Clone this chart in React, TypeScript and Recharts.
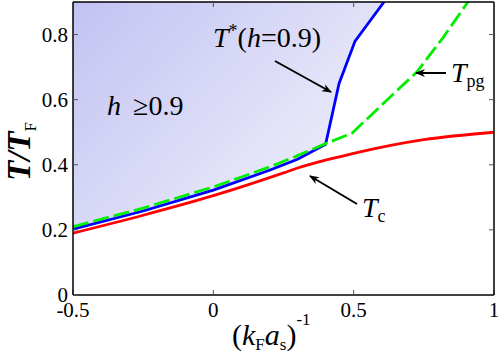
import {
  Area,
  ComposedChart,
  Line,
  XAxis,
  YAxis,
} from "recharts";

// axis setup
const X_TICKS = [-0.5, 0, 0.5, 1];
const Y_TICKS = [0, 0.2, 0.4, 0.6, 0.8];
const TOP_TICKS = [0, 0.5];
const RIGHT_TICKS = [0.2, 0.4, 0.6, 0.8];
const Y_MAX = 0.9;

// T_c (red, solid)
const tcX = [-0.5, -0.25, 0, 0.25, 0.3, 0.5, 0.75, 1];
const tcY = [0.19, 0.245, 0.305, 0.375, 0.39, 0.435, 0.477, 0.5];

// T*(h=0.9) (blue, solid) — also the lower edge of the shaded region
const tsX = [-0.5, -0.25, 0, 0.2, 0.3, 0.4, 0.448, 0.505, 0.608];
const tsY = [0.202, 0.258, 0.322, 0.383, 0.417, 0.463, 0.65, 0.78, 0.9];

// T_pg (green, dashed)
const pgX = [-0.5, -0.25, 0, 0.2, 0.3, 0.4, 0.494, 0.62, 0.725, 0.818, 0.907];
const pgY = [0.21, 0.267, 0.332, 0.393, 0.428, 0.465, 0.497, 0.6, 0.685, 0.79, 0.9];

const FONT = "'Liberation Serif', 'Times New Roman', 'DejaVu Serif', serif";

function buildRows() {
  const xs = Array.from(new Set([...tcX, ...tsX, ...pgX])).sort((a, b) => a - b);
  return xs.map((x) => {
    const row: Record<string, any> = { x };
    const i = tcX.indexOf(x);
    if (i >= 0) row.tc = tcY[i];
    const j = tsX.indexOf(x);
    if (j >= 0) {
      row.ts = tsY[j];
      row.shade = [tsY[j], Y_MAX];
    }
    const k = pgX.indexOf(x);
    if (k >= 0) row.pg = pgY[k];
    return row;
  });
}

const tickStyle = { fontFamily: FONT, fontSize: 21, fill: "#000" };
const blank = () => "";
const serif = { fontFamily: FONT };

export default function App() {
  const rows = buildRows();
  return (
    <div style={{ position: "fixed", left: 0, top: 0, width: 498, height: 353, background: "#fff" }}>
      <ComposedChart
        width={498}
        height={353}
        data={rows}
        margin={{ top: 1, right: 3, bottom: 57, left: 72 }}
      >
        <defs>
          <linearGradient id="shadeGrad" x1="0" y1="0" x2="1" y2="0.7">
            <stop offset="0%" stopColor="#c2c2f2" />
            <stop offset="100%" stopColor="#f0f0fc" />
          </linearGradient>
        </defs>
        <Area
          xAxisId="b"
          yAxisId="l"
          type="linear"
          dataKey="shade"
          stroke="none"
          fill="url(#shadeGrad)"
          fillOpacity={1}
          connectNulls
          isAnimationActive={false}
        />
        <XAxis
          xAxisId="b"
          type="number"
          dataKey="x"
          domain={[-0.5, 1]}
          ticks={X_TICKS}
          interval={0}
          height={1}
          tickSize={-5}
          tickMargin={12}
          tick={tickStyle}
          tickFormatter={(v) => String(v)}
          axisLine={{ stroke: "#000", strokeWidth: 1.5 }}
          tickLine={{ stroke: "#555" }}
          allowDataOverflow
        />
        <XAxis
          xAxisId="t"
          orientation="top"
          type="number"
          dataKey="x"
          domain={[-0.5, 1]}
          ticks={TOP_TICKS}
          interval={0}
          height={1}
          tickSize={-5}
          tickFormatter={blank}
          axisLine={{ stroke: "#000", strokeWidth: 1.5 }}
          tickLine={{ stroke: "#555" }}
          allowDataOverflow
        />
        <YAxis
          yAxisId="l"
          type="number"
          domain={[0, Y_MAX]}
          ticks={Y_TICKS}
          interval={0}
          width={1}
          tickSize={-5}
          tickMargin={10}
          tick={tickStyle}
          tickFormatter={(v) => String(v)}
          axisLine={{ stroke: "#000", strokeWidth: 1.5 }}
          tickLine={{ stroke: "#555" }}
          allowDataOverflow
        />
        <YAxis
          yAxisId="r"
          orientation="right"
          type="number"
          domain={[0, Y_MAX]}
          ticks={RIGHT_TICKS}
          interval={0}
          width={1}
          tickSize={-5}
          tickFormatter={blank}
          axisLine={{ stroke: "#000", strokeWidth: 1.5 }}
          tickLine={{ stroke: "#555" }}
          allowDataOverflow
        />
        <Line
          xAxisId="b"
          yAxisId="l"
          type="monotone"
          dataKey="tc"
          stroke="#ff0000"
          strokeWidth={2.8}
          dot={false}
          connectNulls
          isAnimationActive={false}
        />
        <Line
          xAxisId="b"
          yAxisId="l"
          type="linear"
          dataKey="ts"
          stroke="#0000ff"
          strokeWidth={2.8}
          dot={false}
          connectNulls
          isAnimationActive={false}
        />
        <Line
          xAxisId="b"
          yAxisId="l"
          type="linear"
          dataKey="pg"
          stroke="#00ee00"
          strokeWidth={2.8}
          strokeDasharray="16 5"
          dot={false}
          connectNulls
          isAnimationActive={false}
        />
      </ComposedChart>

      {/* annotations */}
      <svg
        width={498}
        height={353}
        style={{ position: "absolute", left: 0, top: 0, pointerEvents: "none", fontFamily: FONT }}
      >
        <defs>
          <marker id="arr" markerWidth="10" markerHeight="8" refX="9" refY="4" orient="auto" markerUnits="userSpaceOnUse">
            <path d="M0,0 L10,4 L0,8 L3,4 Z" fill="#000" />
          </marker>
        </defs>

        <text x={213} y={47} fontSize={28} style={serif}>
          <tspan fontStyle="italic">T</tspan>
          <tspan fontSize={18} dy={-10}>*</tspan>
          <tspan dy={10}>(</tspan>
          <tspan fontStyle="italic">h</tspan>
          <tspan>=0.9)</tspan>
        </text>
        <line x1={275} y1={61} x2={331} y2={92} stroke="#000" strokeWidth={2} markerEnd="url(#arr)" />

        <text x={107} y={115} fontSize={28} style={serif}>
          <tspan fontStyle="italic">h</tspan>
          <tspan dx={12}>≥</tspan>
          <tspan>0.9</tspan>
        </text>

        <text x={451} y={82} fontSize={28} style={serif}>
          <tspan fontStyle="italic">T</tspan>
          <tspan fontSize={18} dy={5}>pg</tspan>
        </text>
        <line x1={446} y1={73} x2={416} y2={73} stroke="#000" strokeWidth={2} markerEnd="url(#arr)" />

        <text x={362} y={217} fontSize={28} style={serif}>
          <tspan fontStyle="italic">T</tspan>
          <tspan fontSize={18} dy={5}>c</tspan>
        </text>
        <line x1={357} y1={204} x2={310} y2={176} stroke="#000" strokeWidth={2} markerEnd="url(#arr)" />

        <text
          transform="translate(30,181) rotate(-90)"
          fontSize={33}
          fontWeight="bold"
          style={serif}
        >
          <tspan fontStyle="italic">T</tspan>
          <tspan fontStyle="italic">/</tspan>
          <tspan fontStyle="italic">T</tspan>
          <tspan fontSize={17} fontWeight="normal" dy={6}>F</tspan>
        </text>

        <text x={232} y={345} fontSize={30} style={serif}>
          <tspan>(</tspan>
          <tspan fontStyle="italic">k</tspan>
          <tspan fontSize={17} dy={5}>F</tspan>
          <tspan fontStyle="italic" dy={-5}>a</tspan>
          <tspan fontSize={17} dy={5}>s</tspan>
          <tspan dy={-5}>)</tspan>
          <tspan fontSize={17} dy={-20}>-1</tspan>
        </text>
      </svg>
    </div>
  );
}
